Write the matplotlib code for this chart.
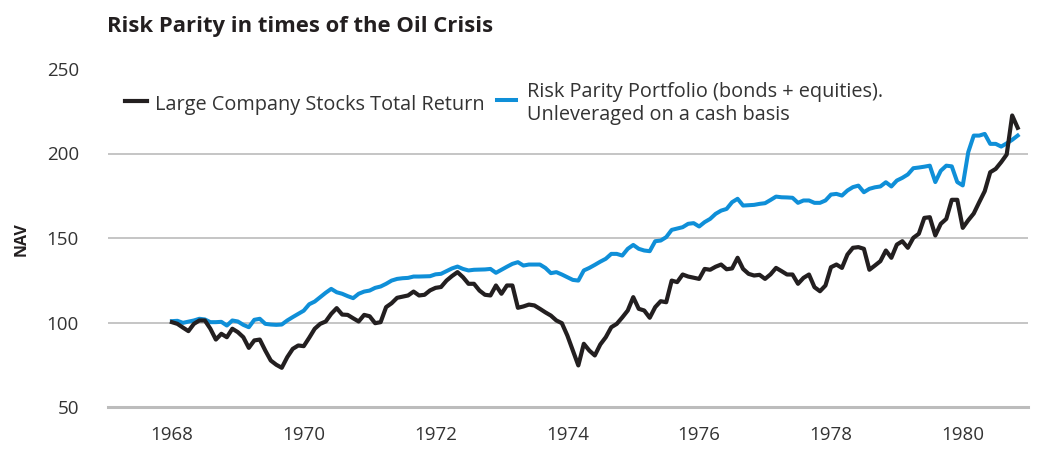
#!/usr/bin/env python3
"""Risk Parity in times of the Oil Crisis - NAV chart, monthly, 1968-1980."""

import numpy as np
import matplotlib.pyplot as plt
from matplotlib.lines import Line2D

plt.rcParams['font.family'] = ['Open Sans', 'DejaVu Sans']

START_YEAR = 1968

# Large Company Stocks Total Return (monthly NAV)
stocks = [
    100.2, 99.2, 97.0, 94.9, 99.2, 101.2, 101.2, 96.3, 89.9, 93.3, 91.3, 96.3,      # 1968
    94.3, 91.3, 85.0, 89.4, 89.9, 83.4, 77.5, 75.0, 73.2, 79.5, 84.4, 86.4,         # 1969
    86.0, 91.0, 96.3, 99.2, 100.6, 105.1, 108.5, 104.7, 104.5, 102.5, 100.6, 104.5,  # 1970
    103.7, 99.6, 100.2, 109.1, 111.4, 114.6, 115.3, 116.0, 118.3, 116.0, 116.4, 119.0,  # 1971
    120.5, 121.0, 124.8, 127.5, 129.8, 126.8, 122.9, 122.9, 118.9, 116.4, 116.0, 121.9,  # 1972
    117.0, 121.9, 121.9, 108.7, 109.5, 110.6, 110.1, 108.1, 106.0, 104.1, 101.2, 99.6,   # 1973
    92.3, 83.4, 74.6, 87.4, 83.4, 80.5, 87.0, 91.3, 97.2, 99.2, 103.0, 107.1,        # 1974
    115.0, 108.1, 107.1, 102.8, 109.1, 112.6, 112.0, 124.8, 123.9, 128.4, 127.2, 126.5,  # 1975
    125.8, 131.7, 131.2, 133.0, 134.3, 131.5, 132.0, 138.3, 131.7, 128.8, 127.8, 128.2,  # 1976
    125.8, 128.5, 132.3, 130.4, 128.4, 128.4, 122.9, 126.4, 128.4, 120.9, 118.5, 121.9,  # 1977
    132.7, 134.3, 132.3, 140.2, 144.2, 144.6, 143.6, 131.2, 133.7, 136.3, 142.6, 138.3,  # 1978
    146.1, 148.1, 144.2, 150.1, 152.5, 161.9, 162.3, 151.5, 158.4, 161.3, 172.6, 172.6,  # 1979
    156.0, 160.5, 164.5, 171.2, 177.7, 188.9, 190.9, 194.9, 199.4, 222.5, 215.2,         # 1980
]

# Risk Parity Portfolio (bonds + equities), unleveraged
risk_parity = [
    100.8, 101.0, 99.8, 100.5, 101.2, 102.2, 101.8, 100.2, 100.2, 100.4, 98.2, 101.2,   # 1968
    100.6, 98.6, 97.2, 101.6, 102.2, 99.2, 98.8, 98.6, 98.8, 101.2, 103.2, 105.1,       # 1969
    107.0, 110.8, 112.4, 115.0, 117.6, 119.9, 117.9, 117.0, 115.6, 114.4, 117.0, 118.3,  # 1970
    118.9, 120.5, 121.3, 122.9, 124.8, 125.8, 126.2, 126.4, 127.2, 127.2, 127.3, 127.4,  # 1971
    128.5, 128.8, 130.4, 132.0, 133.1, 131.7, 130.8, 131.2, 131.3, 131.4, 131.7, 129.4,  # 1972
    131.2, 133.0, 134.7, 135.7, 133.7, 134.3, 134.3, 134.3, 132.3, 129.2, 129.8, 128.4,  # 1973
    126.8, 125.2, 124.8, 130.8, 132.3, 134.1, 136.0, 137.7, 140.6, 140.6, 139.6, 143.6,  # 1974
    145.9, 143.6, 142.6, 142.2, 148.1, 148.5, 150.5, 154.8, 155.6, 156.4, 158.4, 158.8,  # 1975
    156.8, 159.4, 161.3, 164.3, 166.2, 167.2, 171.2, 173.2, 169.2, 169.4, 169.6, 170.2,  # 1976
    170.6, 172.5, 174.5, 174.1, 174.0, 173.8, 170.8, 172.2, 172.2, 170.8, 170.8, 172.2,  # 1977
    175.7, 176.1, 175.1, 178.1, 180.1, 181.0, 177.1, 179.1, 180.0, 180.5, 183.0, 180.5,  # 1978
    184.0, 185.6, 187.6, 191.3, 191.7, 192.2, 192.8, 183.1, 189.8, 192.8, 192.4, 183.1,  # 1979
    181.1, 200.8, 210.6, 210.6, 211.6, 205.7, 205.7, 204.1, 206.0, 208.1, 210.6,         # 1980
]

x_ticks = [1968, 1970, 1972, 1974, 1976, 1978, 1980]
y_ticks = [50, 100, 150, 200, 250]

title = "Risk Parity in times of the Oil Crisis"
label_stocks = "Large Company Stocks Total Return"
label_rp = ["Risk Parity Portfolio (bonds + equities).", "Unleveraged on a cash basis"]

BLACK = "#231f20"
BLUE = "#0f8fd8"
GRID = "#b5b5b5"
TEXT = "#333333"

W, H = 1040, 450


def fx(px):
    return px / W


def fy(py):
    return 1 - py / H


fig = plt.figure(figsize=(W / 100, H / 100), dpi=100)
ax = fig.add_axes([fx(108), fy(407), fx(1028) - fx(108), fy(69) - fy(407)])

months = START_YEAR + np.arange(len(stocks)) / 12
ax.plot(months, risk_parity, color=BLUE, lw=2.9, solid_joinstyle="round", zorder=3)
ax.plot(months, stocks, color=BLACK, lw=3.0, solid_joinstyle="round", zorder=4)

ax.set_xlim(1967.03, 1980.99)
ax.set_ylim(50, 250)
ax.set_xticks(x_ticks)
ax.set_yticks(y_ticks)

for y in y_ticks[1:-1]:
    ax.axhline(y, color=GRID, lw=1.1, zorder=1)
ax.axhline(50, color="#bcbcbc", lw=2.2, zorder=1, clip_on=False)

for s in ax.spines.values():
    s.set_visible(False)
ax.tick_params(axis="both", length=0, labelsize=13.5, labelcolor=TEXT)
ax.tick_params(axis="y", pad=21)
ax.tick_params(axis="x", pad=14)

fig.text(fx(22), fy(239), "NAV", rotation=90, ha="center", va="center",
         fontsize=11.5, fontweight="bold", color=BLACK)

fig.text(fx(107), fy(32), title, ha="left", va="baseline", fontsize=15.8,
         fontweight="bold", color=BLACK)

# legend, drawn by hand so the two-line label sits like the original
fig.add_artist(Line2D([fx(125), fx(147)], [fy(101), fy(101)], color=BLACK, lw=3.0))
fig.text(fx(155), fy(110), label_stocks, ha="left", va="baseline",
         fontsize=14.3, color=TEXT)
fig.add_artist(Line2D([fx(497), fx(516)], [fy(100), fy(100)], color=BLUE, lw=2.9))
fig.text(fx(527), fy(97), label_rp[0], ha="left", va="baseline",
         fontsize=14.3, color=TEXT)
fig.text(fx(527), fy(120), label_rp[1], ha="left", va="baseline",
         fontsize=14.3, color=TEXT)

fig.savefig("out.png", dpi=100)
plt.close(fig)
